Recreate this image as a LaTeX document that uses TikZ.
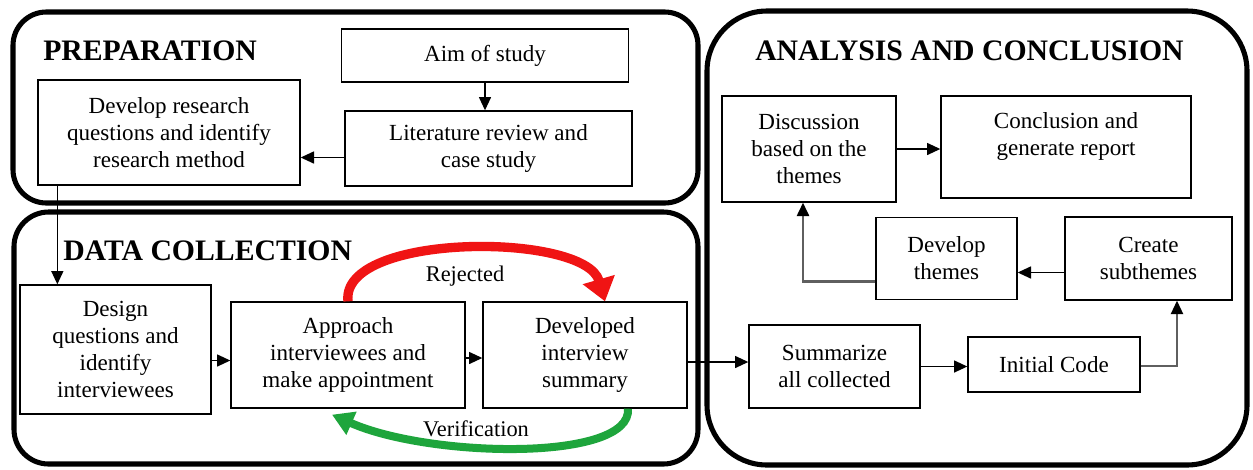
\documentclass[tikz,border=0pt]{standalone}
\usepackage{fontspec}
\setmainfont{Liberation Serif}
\usetikzlibrary{arrows.meta,calc}
\definecolor{rejred}{RGB}{240,20,20}
\definecolor{vergreen}{RGB}{30,165,60}
\definecolor{linegray}{RGB}{95,95,95}
\tikzset{
  box/.style={draw=black,line width=1pt,align=center,inner sep=2pt,
    font=\fontsize{17.3}{20.25}\selectfont},
  container/.style={draw=black,line width=3.8pt},
  title/.style={anchor=base west,inner sep=0pt,font=\fontsize{22.3}{26}\selectfont\bfseries},
  conn/.style={draw=black,line width=1.2pt,-{Triangle[length=10pt,width=9pt]}},
  grayconn/.style={draw=linegray,line width=1.8pt,-{Triangle[length=10pt,width=9pt,fill=black,color=black]}},
  lbl/.style={inner sep=0pt,font=\fontsize{16.8}{20}\selectfont},
}
\begin{document}
\begin{tikzpicture}[x=0.75pt,y=-0.75pt]
\useasboundingbox[fill=white] (0,0) rectangle (1253,469);
% containers
\draw[container,rounded corners=25pt] (13,12) rectangle (698,203);
\draw[container,rounded corners=26pt] (14,212) rectangle (698,464);
\draw[container,rounded corners=45pt] (707,11) rectangle (1247,465);
% titles
\node[title] (tprep) at (43,60) {PREPARATION};
\node[title] (tdata) at (63,260) {DATA COLLECTION};
\node[title] (tana) at (755,60) {ANALYSIS AND CONCLUSION};
% boxes
\node[box,minimum width=215.25pt,minimum height=39.75pt] (aim) at (485,55.5) {Aim of study};
\node[box,minimum width=215.25pt,minimum height=56.25pt] (lit) at (488.5,148.5) {Literature review and\\case study};
\node[box,minimum width=196.5pt,minimum height=78.75pt] (dev) at (169,132.5) {Develop research\\questions and identify\\research method};
\node[box,minimum width=143.25pt,minimum height=96.75pt] (design) at (115.5,349.5) {Design\\questions and\\identify\\interviewees};
\node[box,minimum width=175.5pt,minimum height=79.5pt] (appr) at (348,355) {Approach\\interviewees and\\make appointment};
\node[box,minimum width=153pt,minimum height=79.5pt] (devsum) at (585,355) {Developed\\interview\\summary};
\node[box,minimum width=128.25pt,minimum height=62.25pt] (summ) at (834.5,366.5) {Summarize\\all collected};
\node[box,minimum width=129pt,minimum height=41.25pt] (init) at (1054,364.5) {Initial Code};
\node[box,minimum width=125.25pt,minimum height=62.25pt] (create) at (1148.5,258.5) {Create\\subthemes};
\node[box,minimum width=105.75pt,minimum height=61.5pt] (devth) at (946.5,258.5) {Develop\\themes};
\node[box,minimum width=130.5pt,minimum height=79.5pt] (disc) at (809,149) {Discussion\\based on the\\themes};
\node[box,minimum width=187.5pt,minimum height=76.5pt] (concl) at (1066,147) {Conclusion and\\generate report\\\mbox{}};
% connectors
\draw[conn] (aim.south) -- (aim.south |- lit.north);
\coordinate (l1) at ($(lit.west)+(0,9)$);
\draw[conn] (l1) -- (l1 -| dev.east);
\coordinate (d1) at ($(dev.south west)+(20,0)$);
\draw[conn] (d1) -- (d1 |- design.north);
\coordinate (g1) at ($(design.east)+(0,11)$);
\draw[conn] (g1) -- (g1 -| appr.west);
\coordinate (a1) at ($(appr.east)+(0,3)$);
\draw[conn] (a1) -- (a1 -| devsum.west);
\coordinate (s1) at ($(devsum.east)+(0,7)$);
\draw[conn] (s1) -- (s1 -| summ.west);
\draw[conn] (summ.east) -- (summ.east -| init.west);
\coordinate (c1) at ($(create.south)+(28.5,0)$);
\coordinate (i1) at ($(init.east)+(0,1.5)$);
\draw[grayconn,line width=1.5pt] (i1) -| (c1);
\coordinate (t1) at ($(create.west)+(0,14)$);
\draw[conn] (t1) -- (t1 -| devth.east);
\coordinate (t2) at ($(devth.west)+(0,23)$);
\coordinate (t3) at ($(disc.south)+(-6,0)$);
\draw[grayconn] (t2) -| (t3);
\draw[conn] (disc.east) -- (disc.east -| concl.west);
% feedback arcs
\coordinate (r2) at ($(devsum.north)+(20,0)$);
\draw[rejred,line width=7pt,-{Triangle[length=17pt,width=24pt]}]
  (appr.north) .. controls (340,232) and (585,232) .. (r2);
\node[lbl] (rej) at (465,276) {Rejected};
\coordinate (v1) at ($(devsum.south)+(43,0)$);
\coordinate (v2) at ($(appr.south)+(-16,6)$);
\draw[vergreen,line width=6pt,-{Triangle[length=16pt,width=18pt]}]
  (v1) .. controls (632,462) and (430,458) .. (v2);
\node[lbl] (ver) at (476,429) {Verification};
\end{tikzpicture}
\end{document}
